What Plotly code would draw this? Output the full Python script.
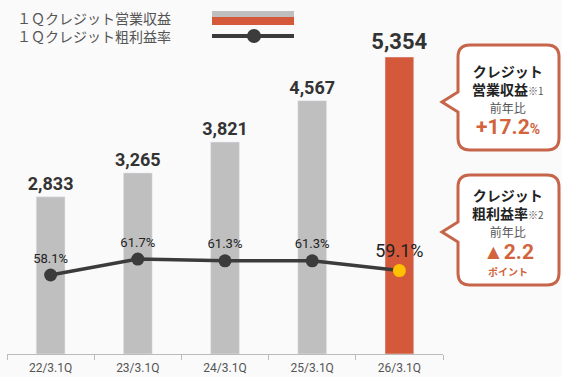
import plotly.graph_objects as go

categories = ["22/3.1Q", "23/3.1Q", "24/3.1Q", "25/3.1Q", "26/3.1Q"]
revenue = [2833, 3265, 3821, 4567, 5354]
margin_rate = [58.1, 61.7, 61.3, 61.3, 59.1]
legend_labels = ["１Ｑクレジット営業収益", "１Ｑクレジット粗利益率"]

W, H = 562, 377
L, R, T, B = 7, 119, 0, 23
PW, PH = W - L - R, H - T - B

def px(x):
    return (x - L) / PW

def py(y):
    return (H - B - y) / PH

GRAY = "#BFBFBF"
ORANGE = "#D4583A"
BORDER = "#C7654A"
ORANGE_T = "#D2633D"
DARK = "#3B3B3B"
JP = "Noto Sans CJK JP"
NUM = "Roboto"

fig = go.Figure()

bar_colors = [GRAY] * (len(revenue) - 1) + [ORANGE]
bar_font_sizes = [18] * (len(revenue) - 1) + [22]
fig.add_trace(go.Bar(
    x=categories, y=revenue, marker_color=bar_colors, width=0.33,
    text=[f"{v:,}" for v in revenue], textposition="outside", constraintext="none",
    textfont=dict(family=NUM, size=bar_font_sizes, color="#333333", weight="bold"),
    cliponaxis=False, showlegend=False, hoverinfo="skip",
))

marker_colors = [DARK] * (len(margin_rate) - 1) + ["#FFC000"]
line_font_sizes = [13] * (len(margin_rate) - 1) + [18]
fig.add_trace(go.Scatter(
    x=categories, y=margin_rate, yaxis="y2", mode="lines+markers+text",
    line=dict(color=DARK, width=3.5),
    marker=dict(color=marker_colors, size=13, line=dict(width=0)),
    text=[f"{v:.1f}%" for v in margin_rate], textposition="top center",
    textfont=dict(family=NUM, size=line_font_sizes, color="#222222"),
    cliponaxis=False, showlegend=False, hoverinfo="skip",
))

shapes = []
annotations = []

# Legend (custom)
shapes.append(dict(type="rect", xref="paper", yref="paper", x0=px(212), x1=px(294), y0=py(17), y1=py(11),
                   fillcolor=GRAY, line=dict(width=0)))
shapes.append(dict(type="rect", xref="paper", yref="paper", x0=px(212), x1=px(294), y0=py(25), y1=py(17),
                   fillcolor=ORANGE, line=dict(width=0)))
shapes.append(dict(type="line", xref="paper", yref="paper", x0=px(212), x1=px(294), y0=py(36), y1=py(36),
                   line=dict(color=DARK, width=4)))
shapes.append(dict(type="circle", xref="paper", yref="paper", x0=px(247), x1=px(261), y0=py(29), y1=py(43),
                   fillcolor=DARK, line=dict(width=0)))
annotations.append(dict(xref="paper", yref="paper", x=px(15), y=py(27), xanchor="left", yanchor="middle",
                        text="<br>".join(legend_labels), align="left", showarrow=False,
                        font=dict(family=JP, size=14, color="#555555")))

# Callout boxes
def callout(x0, x1, y0, y1, pa, pt, pb, tipx, r=12):
    pts = [
        f"M {px(x0 + r)},{py(y0)}",
        f"L {px(x1 - r)},{py(y0)}",
        f"Q {px(x1)},{py(y0)} {px(x1)},{py(y0 + r)}",
        f"L {px(x1)},{py(y1 - r)}",
        f"Q {px(x1)},{py(y1)} {px(x1 - r)},{py(y1)}",
        f"L {px(x0 + r)},{py(y1)}",
        f"Q {px(x0)},{py(y1)} {px(x0)},{py(y1 - r)}",
        f"L {px(x0)},{py(pb)}",
        f"L {px(tipx)},{py(pt)}",
        f"L {px(x0)},{py(pa)}",
        f"L {px(x0)},{py(y0 + r)}",
        f"Q {px(x0)},{py(y0)} {px(x0 + r)},{py(y0)}",
        "Z",
    ]
    return dict(type="path", xref="paper", yref="paper", path=" ".join(pts),
                fillcolor="white", line=dict(color=BORDER, width=3))

shapes.append(callout(458, 559, 45, 150, 92, 102, 112, 442))
shapes.append(callout(458, 559, 175, 285, 222, 232, 242, 442))

cx = 508
def txt(y, text, size, color, family=JP, bold=False):
    annotations.append(dict(xref="paper", yref="paper", x=px(cx), y=py(y), xanchor="center", yanchor="middle",
                            text=(f"<b>{text}</b>" if bold else text), showarrow=False, align="center",
                            font=dict(family=family, size=size, color=color)))

note = "<span style='font-size:10px;color:#555'>{}</span>"
small = "<span style='font-size:12px;color:#555;font-weight:normal'>前年比</span>"
txt(89, "<b>クレジット</b><br><b>営業収益</b>" + note.format("※1") + "<br>" + small, 14, "#222222")
txt(127, "+17.2<span style='font-size:14px'>%</span>", 21, ORANGE_T, family=NUM, bold=True)

txt(213, "<b>クレジット</b><br><b>粗利益率</b>" + note.format("※2") + "<br>" + small, 14, "#222222")
txt(252, "▲2.2", 21, ORANGE_T, family=NUM, bold=True)
txt(271, "ポイント", 10, ORANGE_T, bold=True)

rev_max = 6382
fig.update_layout(
    width=W, height=H, margin=dict(l=L, r=R, t=T, b=B),
    paper_bgcolor="#FAFAFA", plot_bgcolor="#FAFAFA",
    xaxis=dict(showline=True, linecolor="#BBBBBB", linewidth=1, ticks="outside", tickson="boundaries",
               ticklen=5, tickcolor="#BBBBBB", showgrid=False, ticklabelstandoff=3,
               tickfont=dict(family=NUM, size=12, color="#555555")),
    yaxis=dict(range=[0, rev_max], visible=False, showgrid=False),
    yaxis2=dict(range=[40.31, 120.04], overlaying="y", visible=False, showgrid=False),
    shapes=shapes, annotations=annotations, showlegend=False,
)

fig.write_html("out.html")
